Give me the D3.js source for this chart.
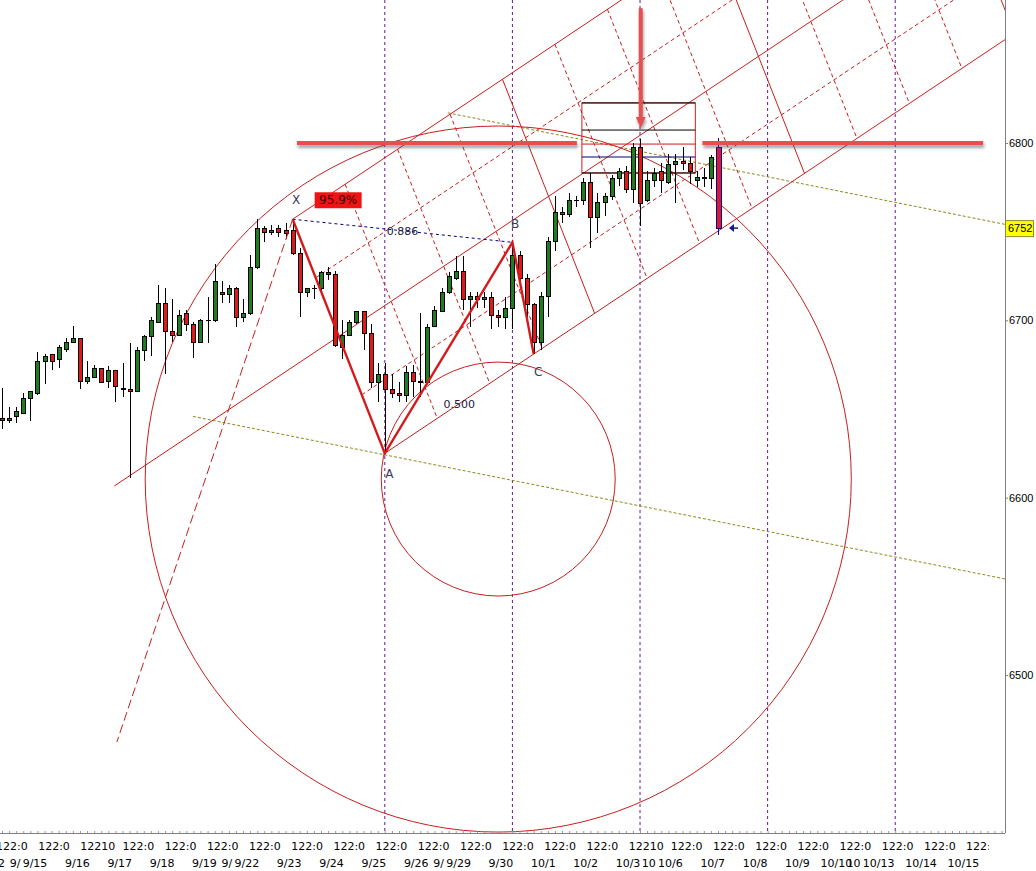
<!DOCTYPE html>
<html>
<head>
<meta charset="utf-8">
<script src="https://cdn.jsdelivr.net/npm/d3@7"></script>
<style>
  body { margin: 0; background: #fff; }
  svg { display: block; font-family: "DejaVu Sans", sans-serif; }
</style>
</head>
<body>
<div id="chart"></div>
<script>
// hourly-ish bars, [open, high, low, close]
const candles = [
  [6645,6662,6639,6644],[6645,6651,6642,6644],[6646,6651,6642,6649],[6648,6659,6647,6656],
  [6656,6660,6643,6660],[6659,6682,6658,6677],[6677,6681,6664,6680],[6681,6681,6672,6677],
  [6678,6686,6673,6685],[6684,6690,6682,6688],[6688,6697,6688,6690],[6690,6690,6661,6666],
  [6666,6677,6664,6668],[6668,6675,6668,6673],[6673,6673,6665,6665],[6666,6674,6662,6672],
  [6672,6672,6654,6663],[6662,6676,6657,6661],[6661,6687,6611,6660],[6660,6685,6660,6683],
  [6683,6692,6677,6691],[6691,6702,6680,6700],[6699,6720,6699,6710],[6710,6718,6670,6694],
  [6694,6712,6688,6692],[6692,6706,6691,6703],[6704,6706,6694,6698],[6698,6699,6679,6688],
  [6688,6701,6687,6700],[6700,6713,6687,6700],[6700,6732,6699,6722],[6716,6722,6710,6715],
  [6715,6720,6710,6718],[6718,6719,6696,6702],[6702,6712,6699,6704],[6704,6737,6703,6730],
  [6730,6757,6729,6752],[6752,6753,6744,6750],[6750,6754,6748,6751],[6752,6754,6747,6750],
  [6751,6755,6746,6749],[6751,6757,6737,6738],[6738,6741,6702,6716],[6716,6718,6713,6718],
  [6718,6720,6712,6718],[6718,6728,6716,6727],[6727,6730,6723,6726],[6726,6728,6685,6686],
  [6685,6700,6678,6692],[6692,6700,6692,6699],[6699,6705,6698,6705],[6705,6705,6683,6693],
  [6693,6698,6662,6665],[6665,6676,6654,6670],[6670,6676,6625,6661],[6661,6670,6656,6659],
  [6659,6665,6654,6658],[6658,6674,6654,6671],[6671,6675,6657,6666],[6666,6704,6657,6665],
  [6665,6698,6664,6696],[6697,6708,6696,6706],[6705,6718,6705,6716],[6716,6727,6715,6725],
  [6724,6736,6723,6728],[6728,6736,6706,6712],[6712,6716,6696,6714],[6714,6716,6707,6712],
  [6712,6716,6707,6713],[6713,6716,6695,6703],[6703,6706,6696,6702],[6702,6713,6695,6707],
  [6707,6744,6695,6737],[6737,6739,6720,6724],[6724,6726,6702,6709],[6709,6710,6681,6688],
  [6688,6716,6683,6714],[6714,6747,6702,6745],[6745,6770,6739,6761],[6761,6764,6755,6760],
  [6760,6772,6758,6768],[6768,6770,6764,6768],[6768,6780,6765,6778],[6778,6783,6741,6758],
  [6758,6772,6749,6767],[6767,6772,6759,6770],[6770,6782,6768,6780],[6780,6786,6776,6784],
  [6784,6787,6772,6774],[6774,6800,6766,6798],[6798,6802,6753,6766],[6768,6784,6767,6779],
  [6779,6786,6775,6783],[6784,6789,6772,6779],[6778,6794,6777,6788],[6788,6794,6766,6790],
  [6790,6798,6785,6789],[6789,6792,6777,6784],[6779,6784,6775,6781],[6781,6786,6775,6780],
  [6780,6793,6774,6792],[6798,6803,6748,6752]
];

const dayLabels = ["9/12","9/15","9/16","9/17","9/18","9/19","9/22","9/23","9/24","9/25","9/26",
  "9/29","9/30","10/1","10/2","10/3","10/6","10/7","10/8","10/9","10/10","10/13","10/14","10/15"];
const mondayPrefix = {"9/15": "9/", "9/22": "9/", "9/29": "9/", "10/6": "10", "10/13": "10"};
const timeLabels = ["122:0","122:0","12210","122:0","122:0","122:0","122:0","122:0","122:0","122:0",
  "122:0","122:0","122:0","122:0","122:0","12210","122:0","122:0","122:0","122:0","122:0","122:0","122:0","122:0"];
const yTicks = [6500, 6600, 6700, 6800];
const lastPrice = 6752;

// XABC pattern points (bar index, price)
const pX = {i: 41, p: 6757};
const pA = {i: 54, p: 6625};
const pB = {i: 72, p: 6744};
const pC = {i: 75, p: 6681};
const xbRatio = "0.886";
const acRatio = "0.500";
const patternPct = "95.9%";

// channel/grid built on X and A
const cell = {di: 29.6, dp: 78.93};
const channelLevels = [0, 0.25, 0.5, 0.75, 1];
const midLineStart = -1.07;
const gridSteps = [0.25, 0.5, 0.75, 1, 1.25, 1.5, 1.75, 2, 2.25, 2.5, 2.75, 3, 3.25, 3.5];

const ringCenter = {i: 70, p: 6610.5};
const ringRadii = [16.5, 49.8];           // in bars
const cycleBars = [54, 72, 90, 108, 126];
const oliveLines = [{i: 62.9, p: 6817}, {i: 26.95, p: 6645.8}];
const oliveSlope = -0.8;                  // points per bar
const xLeg = {i: 16.2, p: 6462.2};        // dashed ray end from X
const resistance = 6800;
const resistanceSpans = [[41.6, 81.1], [98.8, 138.4]];
const boxBars = [81.8, 97.8];
const boxLevels = [6822.6, 6807.3, 6799.4, 6792.1, 6783.1];
const boxColors = ["#000", "#000", "#c81e1e", "#000080", "#000"];
const arrowBar = 90.1, arrowFrom = 6876, arrowTo = 6808.5;

const W = 1036, H = 871, plotR = 1005, plotB = 833;

const x = d3.scaleLinear().domain([0, candles.length - 1]).range([2, 718]);
const y = d3.scaleLinear().domain([6500, 6800]).range([675, 143]);
const step = x(1) - x(0);
const px = d => [x(d.i), y(d.p)];
const P = (u, v) => [x(pX.i + u * cell.di + v * (pA.i - pX.i)), y(pX.p + u * cell.dp + v * (pA.p - pX.p))];
const line = d3.line();

const svg = d3.select("#chart").append("svg").attr("width", W).attr("height", H);
const defs = svg.append("defs");
defs.append("clipPath").attr("id", "plot")
  .append("rect").attr("width", plotR).attr("height", plotB);
defs.append("filter").attr("id", "shadow").attr("filterUnits", "userSpaceOnUse")
  .attr("x", 0).attr("y", 0).attr("width", W).attr("height", H)
  .append("feDropShadow").attr("dx", 1).attr("dy", 3).attr("stdDeviation", 1.6)
  .attr("flood-color", "#555").attr("flood-opacity", 0.55);

const plot = svg.append("g").attr("clip-path", "url(#plot)");
const red = "#c81e1e";

// cycle verticals
plot.selectAll(".cyc").data(cycleBars).join("line")
  .attr("x1", d => x(d)).attr("x2", d => x(d)).attr("y1", 0).attr("y2", plotB)
  .attr("stroke", "#6a1590").attr("stroke-dasharray", "3,3");

// olive trend lines
plot.selectAll(".olive").data(oliveLines).join("path")
  .attr("d", d => line([px(d), px({i: 145, p: d.p + oliveSlope * (145 - d.i)})]))
  .attr("stroke", "#8a8a1a").attr("stroke-dasharray", "3,2").attr("fill", "none");

// rings
plot.selectAll(".ring").data(ringRadii).join("circle")
  .attr("cx", x(ringCenter.i)).attr("cy", y(ringCenter.p)).attr("r", d => d * step)
  .attr("fill", "none").attr("stroke", red);

// channel parallels
plot.selectAll(".par").data(channelLevels).join("path")
  .attr("d", v => line([P(v === 0.5 ? midLineStart : 0, v), P(5, v)]))
  .attr("fill", "none").attr("stroke", red)
  .attr("stroke-dasharray", v => (v === 0.25 || v === 0.75) ? "4,3" : null);

// cross lines
plot.selectAll(".perp").data(gridSteps).join("path")
  .attr("d", u => line([P(u, 0), P(u, 1)]))
  .attr("fill", "none").attr("stroke", red)
  .attr("stroke-dasharray", u => Number.isInteger(u) ? null : "4,3");

// target box
const bx0 = x(boxBars[0]), bx1 = x(boxBars[1]);
plot.append("rect").attr("x", bx0).attr("y", y(boxLevels[0]))
  .attr("width", bx1 - bx0).attr("height", y(boxLevels[4]) - y(boxLevels[0]))
  .attr("fill", "none").attr("stroke", red);
plot.selectAll(".boxl").data(boxLevels).join("line")
  .attr("x1", bx0).attr("x2", bx1).attr("y1", d => y(d)).attr("y2", d => y(d))
  .attr("stroke", (d, k) => boxColors[k]);

// candles
const cg = plot.append("g");
const last = candles.length - 1;
candles.forEach((c, k) => {
  const [o, h, l, cl] = c;
  const cx = Math.round(x(k)) + 0.5;
  const up = cl >= o;
  const isLast = k === last;
  const edge = isLast ? "#000080" : "#000";
  cg.append("line").attr("x1", cx).attr("x2", cx).attr("y1", y(h)).attr("y2", y(l))
    .attr("stroke", edge).attr("shape-rendering", "crispEdges");
  const top = Math.round(y(Math.max(o, cl))), bot = Math.round(y(Math.min(o, cl)));
  const bw = isLast ? 5 : 4;
  cg.append("rect").attr("x", cx - bw / 2).attr("y", top + 0.5)
    .attr("width", bw).attr("height", Math.max(bot - top, 0.01))
    .attr("fill", up ? "#1f7d1f" : (isLast ? "#dc1838" : "#e01818"))
    .attr("stroke", edge).attr("shape-rendering", "crispEdges");
});

// X-B ratio line
plot.append("path").attr("d", line([px(pX), px(pB)]))
  .attr("stroke", "#000080").attr("stroke-dasharray", "3,3").attr("fill", "none");
// dashed leg from X
plot.append("path").attr("d", line([px(pX), px(xLeg)]))
  .attr("stroke", red).attr("stroke-dasharray", "9,4").attr("fill", "none");
// pattern legs
plot.append("path").attr("d", line([pX, pA, pB, pC].map(px)))
  .attr("stroke", "#d41a1a").attr("stroke-width", 2.4).attr("fill", "none")
  .attr("stroke-linejoin", "miter");

// labels
plot.append("rect").attr("x", x(pX.i) + 22).attr("y", y(pX.p) - 27).attr("width", 47).attr("height", 16)
  .attr("fill", "#ee1414");
const lab = plot.append("g").attr("font-size", 11).attr("text-anchor", "middle").attr("fill", "#3a3a55");
[[pX, "X", 3.5, -19], [pA, "A", 4.5, 20], [pB, "B", 2.6, -19], [pC, "C", 4.6, 18]].forEach(([d, t, dx, dy]) => {
  lab.append("text").attr("x", x(d.i) + dx).attr("y", y(d.p) + dy).attr("dy", "0.35em")
    .attr("font-size", 12).text(t);
});
const mid = (a, b) => [(x(a.i) + x(b.i)) / 2, (y(a.p) + y(b.p)) / 2];
lab.append("text").attr("x", mid(pX, pB)[0]).attr("y", mid(pX, pB)[1]).attr("dy", "0.35em")
  .attr("fill", "#202040").text(xbRatio);
lab.append("text").attr("x", mid(pA, pC)[0]).attr("y", mid(pA, pC)[1]).attr("dy", "0.35em")
  .attr("fill", "#202040").text(acRatio);
lab.append("text").attr("x", x(pX.i) + 45.5).attr("y", y(pX.p) - 19).attr("dy", "0.35em")
  .attr("fill", "#3a0000").attr("font-size", 12).text(patternPct);

// resistance lines and arrow with shadow
const hot = plot.append("g").attr("filter", "url(#shadow)");
hot.selectAll(".res").data(resistanceSpans).join("line")
  .attr("x1", d => x(d[0])).attr("x2", d => x(d[1]))
  .attr("y1", y(resistance)).attr("y2", y(resistance))
  .attr("stroke", "#e65050").attr("stroke-width", 4);
const ax = x(arrowBar), ay0 = y(arrowFrom), ay1 = y(arrowTo);
hot.append("line").attr("x1", ax).attr("x2", ax).attr("y1", ay0).attr("y2", ay1 - 9)
  .attr("stroke", "#e65050").attr("stroke-width", 4);
hot.append("path").attr("d", line([[ax - 5, ay1 - 11], [ax + 5, ay1 - 11], [ax, ay1]]) + "Z")
  .attr("fill", "#e65050");

// last-price pointer
const lx = x(last) + 11, ly = y(lastPrice);
plot.append("path").attr("d", line([[lx, ly], [lx + 5, ly - 4], [lx + 5, ly + 4]]) + "Z").attr("fill", "#1a1a80");
plot.append("line").attr("x1", lx + 4).attr("x2", lx + 9).attr("y1", ly).attr("y2", ly)
  .attr("stroke", "#1a1a80").attr("stroke-width", 1.5);

// axes
svg.append("line").attr("x1", 0).attr("x2", plotR).attr("y1", plotB + 0.5).attr("y2", plotB + 0.5).attr("stroke", "#808080");
svg.append("line").attr("x1", plotR + 0.5).attr("x2", plotR + 0.5).attr("y1", 0).attr("y2", plotB).attr("stroke", "#808080");

const xAxis = d3.axisBottom(x).tickValues(d3.range(0, 142)).tickSize(-2).tickFormat("");
svg.append("g").attr("transform", `translate(0,${plotB})`).call(xAxis)
  .call(g => g.select(".domain").remove())
  .call(g => g.selectAll("line").attr("stroke", "#9a9a9a"));

const yAxis = d3.axisRight(y).tickValues(yTicks).tickSize(3).tickPadding(1).tickFormat(d3.format("d"));
svg.append("g").attr("transform", `translate(${plotR},0)`).call(yAxis)
  .attr("font-family", "Liberation Sans").attr("font-size", 11)
  .call(g => g.select(".domain").remove())
  .call(g => g.selectAll("line").attr("stroke", "#808080"))
  .call(g => g.selectAll("text").attr("fill", "#000"));

defs.append("clipPath").attr("id", "xlab").append("rect").attr("width", 989).attr("height", H);
const xl = svg.append("g").attr("clip-path", "url(#xlab)").attr("font-size", 11).attr("fill", "#000");
xl.selectAll(".tl").data(timeLabels).join("text")
  .attr("x", (d, k) => x(5.1 + 5.95 * (k - 1))).attr("y", 850).text(d => d);
xl.selectAll(".dl").data(dayLabels).join("text")
  .attr("text-anchor", "end")
  .attr("x", (d, k) => x(6.4 + 5.975 * (k - 1))).attr("y", 867)
  .text(d => (mondayPrefix[d] ? mondayPrefix[d] + "\u2009" : "") + d);

// last price tag
const tag = svg.append("g").attr("transform", `translate(${plotR},${y(lastPrice)})`);
tag.append("rect").attr("x", 0.5).attr("y", -7.5).attr("width", 28).attr("height", 16)
  .attr("fill", "#ffff00").attr("stroke", "#8c8c3c");
tag.append("text").attr("x", 3).attr("dy", "0.38em").attr("font-family", "Liberation Sans")
  .attr("font-size", 11).text(lastPrice);
</script>
</body>
</html>
